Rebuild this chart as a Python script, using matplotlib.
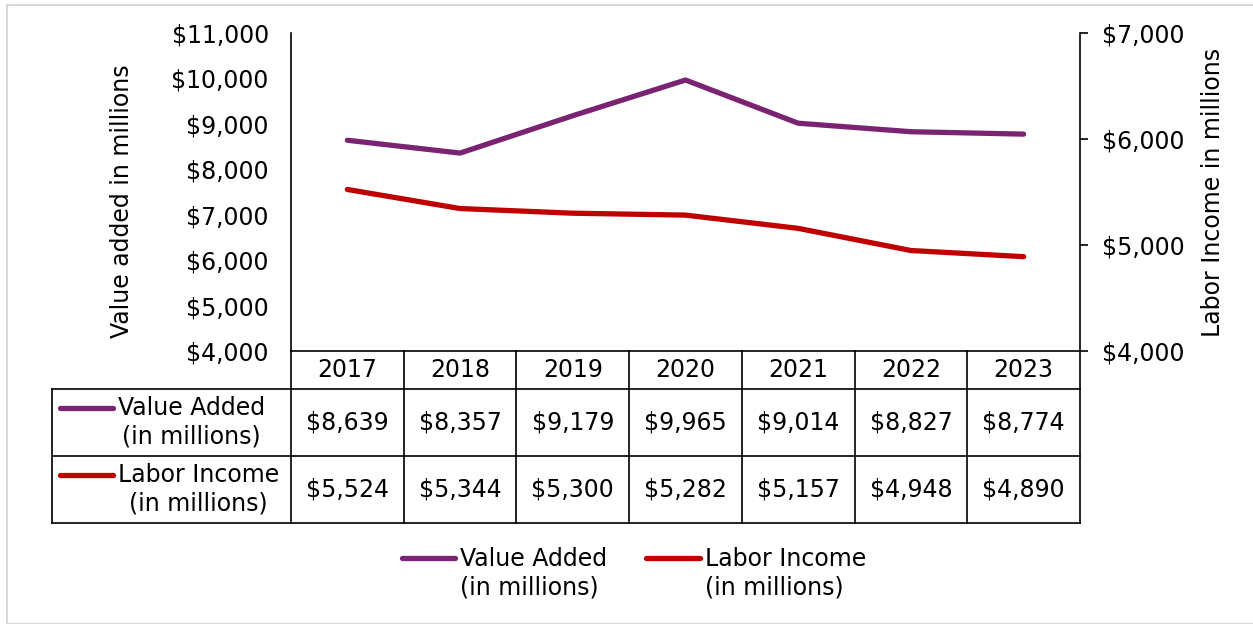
import matplotlib
matplotlib.use("Agg")
import matplotlib.pyplot as plt
from matplotlib.lines import Line2D
from matplotlib.patches import Rectangle
from matplotlib.ticker import FuncFormatter

# Data
years = ["2017", "2018", "2019", "2020", "2021", "2022", "2023"]
value_added = [8639, 8357, 9179, 9965, 9014, 8827, 8774]
labor_income = [5524, 5344, 5300, 5282, 5157, 4948, 4890]
series_labels = ["Value Added\n(in millions)", "Labor Income\n(in millions)"]

PURPLE = "#7B2373"
RED = "#C00000"
FS = 17
LS = 1.25

plt.rcParams["font.family"] = "DejaVu Sans"

W, H = 1253, 624
fig = plt.figure(figsize=(W / 100, H / 100), dpi=100)

# light frame around the chart
fig.patches.append(Rectangle((7 / W, 0), 1, 1 - 5 / H, transform=fig.transFigure,
                             fill=False, edgecolor="#D9D9D9", linewidth=1.5))

left, right, top, bottom = 291, 1080, 33, 351
ax = fig.add_axes([left / W, 1 - bottom / H, (right - left) / W, (bottom - top) / H])
ax2 = ax.twinx()

x = list(range(len(years)))
ax.plot(x, value_added, color=PURPLE, linewidth=3.8, solid_capstyle="round")
ax2.plot(x, labor_income, color=RED, linewidth=3.8, solid_capstyle="round")

ax.set_xlim(-0.5, len(years) - 0.5)
ax.set_ylim(4000, 11000)
ax.set_yticks(range(4000, 11001, 1000))
ax2.set_ylim(4000, 7000)
ax2.set_yticks(range(4000, 7001, 1000))

money = FuncFormatter(lambda v, p: f"${v:,.0f}")
ax.yaxis.set_major_formatter(money)
ax2.yaxis.set_major_formatter(money)

ax.set_xticks([])
ax.tick_params(axis="y", length=0, pad=16, labelsize=FS)
ax2.tick_params(axis="y", length=6, width=1.2, pad=10, labelsize=FS, direction="out")

for a in (ax, ax2):
    a.spines["top"].set_visible(False)
    a.patch.set_alpha(0)
ax2.spines["left"].set_visible(False)
ax2.spines["bottom"].set_visible(False)
ax.spines["right"].set_visible(False)
ax.spines["left"].set_linewidth(1.2)
ax.spines["bottom"].set_linewidth(1.2)
ax2.spines["right"].set_linewidth(1.2)

ax.set_ylabel("Value added in millions", fontsize=FS)
ax2.set_ylabel("Labor Income in millions", fontsize=FS)
ax.yaxis.set_label_coords((134 - left) / (right - left), 0.472)
ax2.yaxis.set_label_coords((1201 - left) / (right - left), 0.5)

# data table below the plot
ph = bottom - top
row_y = [0, -(389 - bottom) / ph, -(456 - bottom) / ph, -(523 - bottom) / ph]
unit = (right - left) / len(years)
x_left = -0.5 - (left - 52) / unit
tr = ax.get_xaxis_transform()
lkw = dict(color="black", linewidth=1.2, transform=tr, clip_on=False)

for yy in row_y[1:]:
    ax.add_line(Line2D([x_left, len(years) - 0.5], [yy, yy], **lkw))
ax.add_line(Line2D([x_left, x_left], [row_y[1], row_y[3]], **lkw))
for i in range(len(years) + 1):
    ax.add_line(Line2D([i - 0.5, i - 0.5], [row_y[0], row_y[3]], **lkw))

for i, yr in enumerate(years):
    ax.text(i, (row_y[0] + row_y[1]) / 2, yr, ha="center", va="center",
            fontsize=FS, transform=tr)
    ax.text(i, (row_y[1] + row_y[2]) / 2, f"${value_added[i]:,}", ha="center",
            va="center", fontsize=FS, transform=tr)
    ax.text(i, (row_y[2] + row_y[3]) / 2, f"${labor_income[i]:,}", ha="center",
            va="center", fontsize=FS, transform=tr)

# row headers with line keys
h_x0 = x_left + (60 - 52) / unit
h_x1 = x_left + (113 - 52) / unit
t_x = x_left + (118 - 52) / unit
for r, (lab, col) in enumerate(zip(series_labels, [PURPLE, RED])):
    y0, y1 = row_y[r + 1], row_y[r + 2]
    ymid = (y0 + y1) / 2
    key_y = ymid + 15 / ph
    ax.add_line(Line2D([h_x0, h_x1], [key_y, key_y], color=col, linewidth=3.8,
                       solid_capstyle="round", transform=tr, clip_on=False))
    ax.text(t_x, ymid, lab, ha="left", va="center", multialignment="center",
            fontsize=FS, transform=tr, linespacing=LS)

# legend at the bottom, key aligned with the first text line
for (hx0, hx1, tx), lab, col in zip([(402, 455, 460), (646, 700, 705)],
                                    series_labels, [PURPLE, RED]):
    fig.add_artist(Line2D([hx0 / W, hx1 / W], [1 - 558 / H] * 2, color=col,
                          linewidth=3.8, solid_capstyle="round",
                          transform=fig.transFigure))
    fig.text(tx / W, 1 - 573 / H, lab, ha="left", va="center",
             multialignment="left", fontsize=FS, linespacing=LS)

fig.savefig("out.png", dpi=100)
